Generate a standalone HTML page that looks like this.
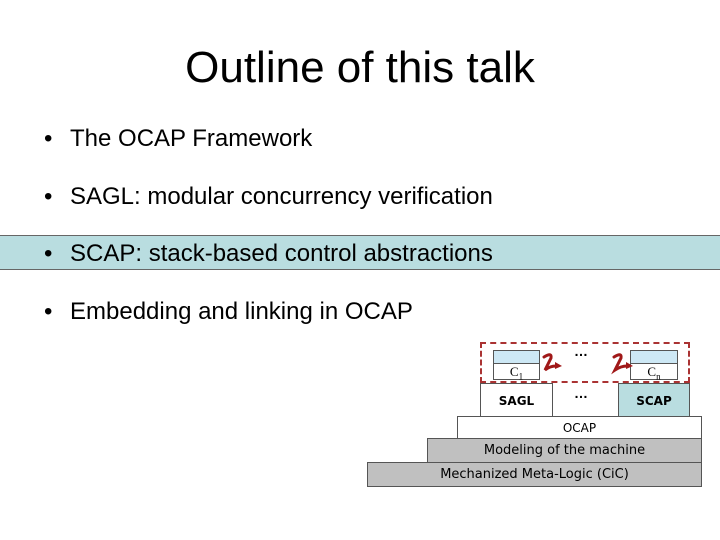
<!DOCTYPE html>
<html><head><style>
body{margin:0;width:720px;height:540px;background:#fff;position:relative;overflow:hidden;font-family:"Liberation Sans",sans-serif}
.a{position:absolute}
.t{left:0;width:720px;text-align:center;top:43px;font-size:44px}
.b{font-size:24px;left:44px}
.b span{position:absolute;left:26px;white-space:nowrap}
.box{position:absolute;border:1px solid #555;box-sizing:border-box;text-align:center;font-family:"DejaVu Sans",sans-serif;font-size:13px}
</style></head><body>
<div class="a t">Outline of this talk</div>
<div class="a" style="left:0;top:235px;width:720px;height:35px;background:#b9dde0;border-top:1px solid #666;border-bottom:1px solid #666;box-sizing:border-box"></div>
<div class="a b" style="top:125px">•<span>The OCAP Framework</span></div>
<div class="a b" style="top:183px">•<span>SAGL: modular concurrency verification</span></div>
<div class="a b" style="top:240px">•<span>SCAP: stack-based control abstractions</span></div>
<div class="a b" style="top:298px">•<span>Embedding and linking in OCAP</span></div>

<div class="box" style="left:367px;top:462px;width:335px;height:25px;background:#c0c0c0;line-height:24px">Mechanized Meta-Logic (CiC)</div>
<div class="box" style="left:427px;top:438px;width:275px;height:25px;background:#c0c0c0;line-height:24px">Modeling of the machine</div>
<div class="box" style="left:457px;top:416px;width:245px;height:23px;background:#fff;line-height:22px;font-size:12px">OCAP</div>
<div class="box" style="left:480px;top:383px;width:73px;height:34px;background:#fff;line-height:34px;font-weight:bold;font-size:12px">SAGL</div>
<div class="box" style="left:618px;top:383px;width:72px;height:34px;background:#b9dde0;line-height:34px;font-weight:bold;font-size:12px">SCAP</div>
<div class="a" style="left:574px;top:385px;font-weight:bold;font-size:14px">…</div>
<div class="a" style="left:480px;top:342px;width:210px;height:41px;border:2px dashed #a33;box-sizing:border-box"></div>
<div class="box" style="left:493px;top:350px;width:47px;height:30px;background:#fff"><div style="height:12px;background:#cde8f5;border-bottom:1px solid #555"></div><div style="font-family:'Liberation Serif',serif;font-size:13px;line-height:16px">C<sub style="font-size:9px">1</sub></div></div>
<div class="box" style="left:630px;top:350px;width:48px;height:30px;background:#fff"><div style="height:12px;background:#cde8f5;border-bottom:1px solid #555"></div><div style="font-family:'Liberation Serif',serif;font-size:13px;line-height:16px">C<sub style="font-size:9px">n</sub></div></div>
<div class="a" style="left:574px;top:343px;font-weight:bold;font-size:14px">…</div>
<svg class="a" style="left:0;top:0" width="720" height="540">
<path d="M544 357 Q552 352 551 358 L545 370 Q550 366 556 366" fill="none" stroke="#a01818" stroke-width="3" stroke-linecap="round"/>
<path d="M614 357 Q622 352 621 358 L615 370 Q621 366 627 366" fill="none" stroke="#a01818" stroke-width="3" stroke-linecap="round"/>
<path d="M555 362 l7 4 l-7 3z M626 362 l7 4 l-7 3z" fill="#a01818"/>
</svg>
</body></html>
